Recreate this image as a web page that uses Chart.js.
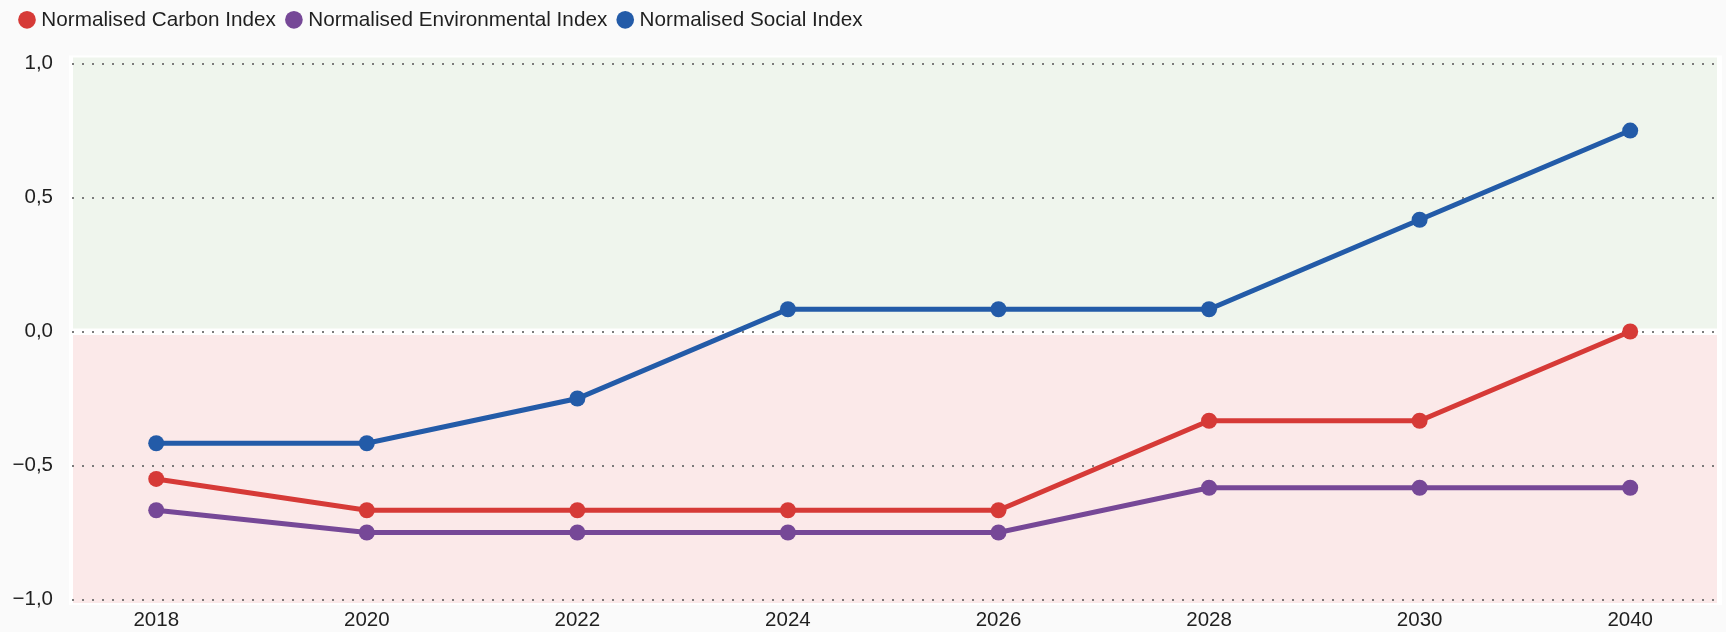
<!DOCTYPE html>
<html><head><meta charset="utf-8">
<script src="https://cdn.jsdelivr.net/npm/chart.js@4"></script>
<style>
html,body{margin:0;padding:0;background:#fafafa;}
#wrap{width:1726px;height:632px;position:relative;}
</style>
</head><body>
<div id="wrap"><canvas id="c" width="1726" height="632"></canvas></div>
<script>
// ---- data ----
const categories = ['2018', '2020', '2022', '2024', '2026', '2028', '2030', '2040'];
const carbonIndex = [-0.55, -0.667, -0.667, -0.667, -0.667, -0.333, -0.333, 0.0];
const environmentalIndex = [-0.667, -0.75, -0.75, -0.75, -0.75, -0.583, -0.583, -0.583];
const socialIndex = [-0.417, -0.417, -0.25, 0.083, 0.083, 0.083, 0.417, 0.75];
const yTickValues = [-1, -0.5, 0, 0.5, 1];
const seriesNames = ['Normalised Carbon Index', 'Normalised Environmental Index', 'Normalised Social Index'];

// ---- styles ----
const colors = ['#d63a37', '#764897', '#235ba8'];
const FONT = "'Liberation Sans', Arial, Helvetica, sans-serif";
const TEXT = '#1f1f1f';

function toPoints(arr) { return arr.map((v, i) => ({x: i, y: v})); }

const zonesPlugin = {
  id: 'zones',
  beforeLayout(chart) {
    const lg = chart.legend;
    if (lg && !lg._wrapped) {
      const f = lg.fit;
      lg.fit = function () { f.call(this); this.height += 15.3; };
      lg._wrapped = true;
    }
  },
  beforeDraw(chart) {
    const {ctx, chartArea: a, scales: {y}} = chart;
    const y0 = y.getPixelForValue(0);
    ctx.save();
    ctx.fillStyle = '#ffffff';
    ctx.fillRect(a.left - 3, a.top, a.right - a.left + 7, a.bottom - a.top);
    ctx.fillStyle = 'rgb(239,245,237)';
    ctx.fillRect(a.left + 1, a.top + 2, a.right - a.left - 2, y0 - 3 - (a.top + 2));
    ctx.fillStyle = 'rgb(251,233,233)';
    ctx.fillRect(a.left + 1, y0 + 3.5, a.right - a.left - 2, a.bottom - 2 - (y0 + 3.5));
    ctx.restore();
  }
};

const seriesData = [carbonIndex, environmentalIndex, socialIndex];
const datasets = seriesData.map((arr, k) => ({
  label: seriesNames[k],
  data: toPoints(arr),
  borderColor: colors[k],
  backgroundColor: colors[k],
  pointBackgroundColor: colors[k],
  pointBorderColor: colors[k],
  pointBorderWidth: 0,
  borderWidth: 5,
  pointRadius: 8,
  pointHoverRadius: 8,
  tension: 0
}));

new Chart(document.getElementById('c'), {
  type: 'line',
  data: {datasets},
  plugins: [zonesPlugin],
  options: {
    responsive: false,
    animation: false,
    devicePixelRatio: 1,
    layout: {padding: {left: 9, right: 5, top: -4.5, bottom: 0}},
    plugins: {
      tooltip: {enabled: false},
      legend: {
        position: 'top',
        align: 'start',
        labels: {
          usePointStyle: true,
          pointStyle: 'circle',
          boxWidth: 8,
          boxHeight: 12.5,
          padding: 14,
          color: TEXT,
          font: {family: FONT, size: 20.7}
        }
      }
    },
    scales: {
      x: {
        type: 'linear',
        min: -0.4,
        max: 7.417,
        afterBuildTicks(scale) { scale.ticks = categories.map((c, i) => ({value: i})); },
        afterFit(scale) { scale.height = 27; scale.paddingLeft = 0; scale.paddingRight = 0; },
        ticks: {
          autoSkip: false,
          maxRotation: 0,
          padding: 3,
          color: TEXT,
          font: {family: FONT, size: 20.5},
          callback: (v) => categories[v]
        },
        grid: {display: false, drawTicks: false},
        border: {display: false}
      },
      y: {
        type: 'linear',
        min: -1.0205,
        max: 1.03,
        afterBuildTicks(scale) { scale.ticks = yTickValues.map(v => ({value: v})); },
        afterFit(scale) { scale.width = 63; scale.paddingTop = 12; scale.paddingBottom = 12; },
        ticks: {
          padding: 19,
          color: TEXT,
          font: {family: FONT, size: 20.5},
          callback: (v) => (v < 0 ? '\u2212' : '') + Math.abs(v).toFixed(1).replace('.', ',')
        },
        grid: {color: 'rgba(110,110,110,0.9)', lineWidth: 2, drawTicks: false},
        border: {display: false, dash: [2, 8]}
      }
    }
  }
});
</script>
</body></html>
